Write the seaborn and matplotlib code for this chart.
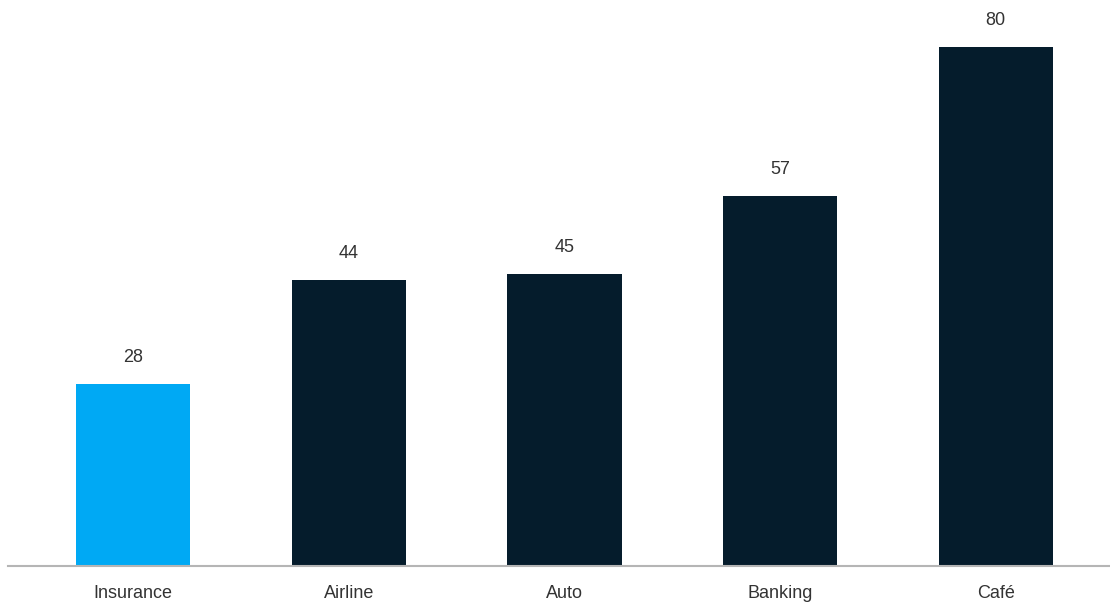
import matplotlib
matplotlib.use("Agg")
import matplotlib.pyplot as plt
import seaborn as sns
import pandas as pd

categories = ["Insurance", "Airline", "Auto", "Banking", "Café"]
values = [28, 44, 45, 57, 80]
bar_colors = ["#00A9F4", "#051C2C", "#051C2C", "#051C2C", "#051C2C"]

sns.set_theme(style="white")
plt.rcParams["font.family"] = ["Liberation Sans", "DejaVu Sans"]

df = pd.DataFrame({"category": categories, "value": values})

fig = plt.figure(figsize=(11.1, 6.03), dpi=100)
ax = fig.add_axes([8 / 1110, 1 - 566 / 603, 1 - 8 / 1110, 566 / 603])

sns.barplot(data=df, x="category", y="value", hue="category",
            palette=bar_colors, width=0.53, legend=False, ax=ax,
            saturation=1, linewidth=0)

for i, v in enumerate(values):
    ax.annotate(f"{v}", (i, v), xytext=(0, 13), textcoords="offset points",
                ha="center", va="bottom", fontsize=13, color="#333333")

ax.set_xlim(-0.58, 4.53)
ax.set_ylim(0, 87.2)
ax.set_xlabel("")
ax.set_ylabel("")
ax.set_yticks([])
ax.tick_params(axis="x", length=0, pad=14, labelsize=13, labelcolor="#333333")
for side in ["top", "right", "left"]:
    ax.spines[side].set_visible(False)
ax.spines["bottom"].set_color("#B5B5B5")
ax.spines["bottom"].set_linewidth(1.5)

fig.savefig("out.png", dpi=100)
